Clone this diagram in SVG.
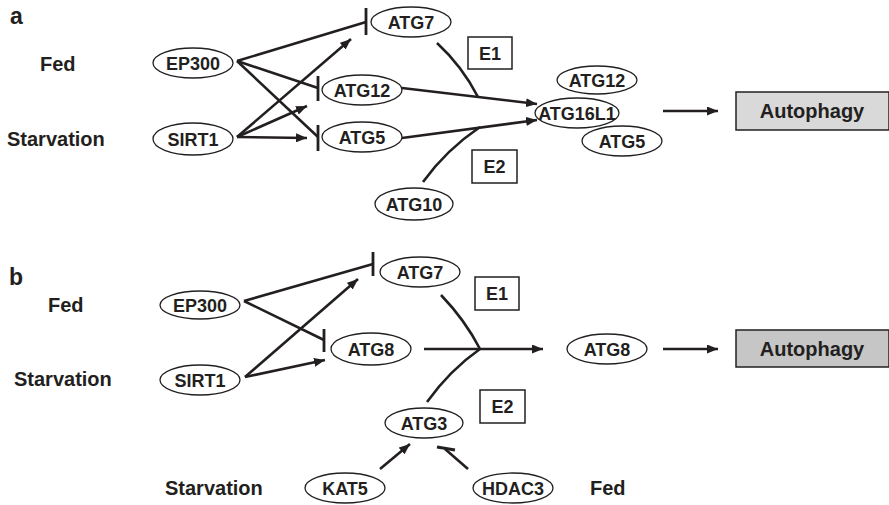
<svg xmlns="http://www.w3.org/2000/svg" width="889" height="505" viewBox="0 0 889 505">
<style>
text{font-family:"Liberation Sans",Arial,sans-serif;font-weight:bold;fill:#231f20;}
.lbl{font-size:20px;}
.nd{font-size:18px;text-anchor:middle;}
.pan{font-size:23px;}
.el{fill:#fff;stroke:#231f20;stroke-width:1.3;}
.box{fill:#fff;stroke:#231f20;stroke-width:1.5;}
.auto1{fill:#d9d9d9;stroke:#231f20;stroke-width:1.5;}
.auto2{fill:#c6c6c6;stroke:#231f20;stroke-width:1.5;}
.ln{fill:none;stroke:#231f20;stroke-width:2.6;stroke-linecap:butt;}
.ar{fill:none;stroke:#231f20;stroke-width:2.6;marker-end:url(#ah);}
.bar{fill:none;stroke:#231f20;stroke-width:2.8;}
</style>
<defs>
<marker id="ah" markerUnits="userSpaceOnUse" markerWidth="11" markerHeight="9" refX="11" refY="4.5" orient="auto">
<path d="M0,0 L11,4.5 L0,9 z" fill="#231f20"/>
</marker>
</defs>
<rect width="889" height="505" fill="#fff"/>

<!-- Panel a -->
<g id="a-labels">
<text class="pan" x="10" y="24">a</text>
<text class="lbl" x="40" y="71">Fed</text>
<text class="lbl" x="7" y="146">Starvation</text>
</g>
<g id="connectors-a">
<line class="ln" x1="237" y1="61" x2="366" y2="22"/>
<line class="bar" x1="366" y1="8" x2="366" y2="35"/>
<line class="ln" x1="237" y1="61" x2="318" y2="88"/>
<line class="bar" x1="318" y1="76" x2="318" y2="101"/>
<line class="ln" x1="237" y1="61" x2="318" y2="137"/>
<line class="bar" x1="318" y1="125" x2="318" y2="151"/>
<line class="ar" x1="237" y1="137" x2="351" y2="39"/>
<line class="ar" x1="237" y1="137" x2="307" y2="106"/>
<line class="ar" x1="237" y1="137" x2="307" y2="138"/>
<line class="ar" x1="402" y1="88" x2="537" y2="104"/>
<line class="ar" x1="402" y1="138" x2="537" y2="120"/>
<path class="ln" d="M437,43 Q462,66 478,97"/>
<path class="ln" d="M423,182 Q446,150 480,127"/>
<line class="ar" x1="663" y1="111" x2="718" y2="111"/>
</g>
<g id="a-EP300"><ellipse class="el" cx="193" cy="63" rx="40" ry="15"/><text class="nd" x="193" y="69.5">EP300</text></g>
<g id="a-SIRT1"><ellipse class="el" cx="193" cy="139" rx="40" ry="16"/><text class="nd" x="193" y="145.5">SIRT1</text></g>
<g id="a-ATG7"><ellipse class="el" cx="411" cy="22" rx="40" ry="15"/><text class="nd" x="411" y="28.5">ATG7</text></g>
<g id="a-ATG12"><ellipse class="el" cx="362" cy="90" rx="40" ry="15"/><text class="nd" x="362" y="96.5">ATG12</text></g>
<g id="a-ATG5"><ellipse class="el" cx="362" cy="137" rx="40" ry="15"/><text class="nd" x="362" y="143.5">ATG5</text></g>
<g id="a-E1"><rect class="box" x="468" y="37" width="44" height="32"/><text class="nd" x="490" y="59.5">E1</text></g>
<g id="a-E2"><rect class="box" x="472" y="150" width="45" height="33"/><text class="nd" x="494.5" y="173">E2</text></g>
<g id="a-ATG10"><ellipse class="el" cx="414" cy="204" rx="39" ry="16"/><text class="nd" x="414" y="210.5">ATG10</text></g>
<g id="a-ATG12c"><ellipse class="el" cx="597" cy="80" rx="40" ry="14"/><text class="nd" x="597" y="86.5">ATG12</text></g>
<g id="a-ATG5c"><ellipse class="el" cx="622" cy="141" rx="40" ry="15"/><text class="nd" x="622" y="147.5">ATG5</text></g>
<g id="a-ATG16L1"><ellipse class="el" cx="577" cy="113" rx="42" ry="15"/><text class="nd" x="577" y="119.5">ATG16L1</text></g>
<g id="a-Autophagy"><rect class="auto1" x="736" y="92" width="153" height="38"/><text class="lbl" x="812" y="118" text-anchor="middle">Autophagy</text></g>

<!-- Panel b -->
<g id="b-labels">
<text class="pan" x="9" y="285">b</text>
<text class="lbl" x="48" y="312">Fed</text>
<text class="lbl" x="14" y="386">Starvation</text>
<text class="lbl" x="165" y="495">Starvation</text>
<text class="lbl" x="590" y="495">Fed</text>
</g>
<g id="connectors-b">
<line class="ln" x1="244" y1="301" x2="373" y2="264"/>
<line class="bar" x1="373" y1="252" x2="373" y2="276"/>
<line class="ln" x1="244" y1="301" x2="324" y2="340"/>
<line class="bar" x1="324" y1="329" x2="324" y2="352"/>
<line class="ar" x1="245" y1="377" x2="358" y2="279"/>
<line class="ar" x1="245" y1="377" x2="325" y2="360"/>
<line class="ln" x1="424" y1="349" x2="480" y2="349"/>
<line class="ar" x1="480" y1="349" x2="543" y2="349"/>
<path class="ln" d="M441,295 Q465,320 480,349"/>
<path class="ln" d="M427,402 Q450,370 480,349"/>
<line class="ar" x1="380" y1="469" x2="410" y2="444"/>
<line class="ln" x1="468" y1="469" x2="445" y2="449"/>
<line class="bar" x1="437" y1="447" x2="455" y2="450"/>
<line class="ar" x1="663" y1="349" x2="718" y2="349"/>
</g>
<g id="b-EP300"><ellipse class="el" cx="200" cy="305" rx="40" ry="14"/><text class="nd" x="200" y="311.5">EP300</text></g>
<g id="b-SIRT1"><ellipse class="el" cx="200" cy="380" rx="40" ry="15"/><text class="nd" x="200" y="386.5">SIRT1</text></g>
<g id="b-ATG7"><ellipse class="el" cx="420" cy="272" rx="40" ry="15"/><text class="nd" x="420" y="278.5">ATG7</text></g>
<g id="b-ATG8"><ellipse class="el" cx="371" cy="349" rx="40" ry="16"/><text class="nd" x="371" y="355.5">ATG8</text></g>
<g id="b-E1"><rect class="box" x="475" y="277" width="44" height="33"/><text class="nd" x="497" y="300">E1</text></g>
<g id="b-E2"><rect class="box" x="480" y="390" width="45" height="33"/><text class="nd" x="502.5" y="413">E2</text></g>
<g id="b-ATG3"><ellipse class="el" cx="424" cy="423" rx="39" ry="15"/><text class="nd" x="424" y="429.5">ATG3</text></g>
<g id="b-KAT5"><ellipse class="el" cx="345" cy="488" rx="40" ry="15"/><text class="nd" x="345" y="494.5">KAT5</text></g>
<g id="b-HDAC3"><ellipse class="el" cx="513" cy="488" rx="40" ry="15"/><text class="nd" x="513" y="494.5">HDAC3</text></g>
<g id="b-ATG8c"><ellipse class="el" cx="607" cy="349" rx="40" ry="15"/><text class="nd" x="607" y="355.5">ATG8</text></g>
<g id="b-Autophagy"><rect class="auto2" x="736" y="330" width="153" height="37"/><text class="lbl" x="812" y="356" text-anchor="middle">Autophagy</text></g>
</svg>
